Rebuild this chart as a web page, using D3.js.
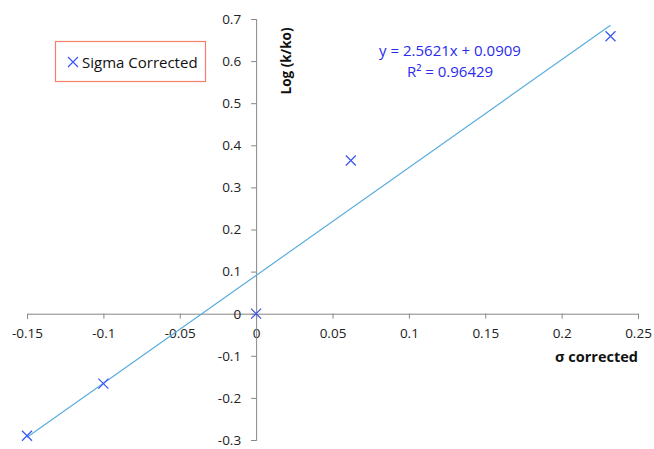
<!DOCTYPE html>
<html lang="en">
<head>
<meta charset="utf-8">
<script src="https://d3js.org/d3.v7.min.js"></script>
<style type="text/css">
body {
	margin: 0;
	background: #fff;
	font-family: "Open Sans", "Noto Sans", sans-serif;
}
.tick text {
	font-size: 13.5px;
	fill: #222;
}
</style>
</head>
<body>
<script type="text/javascript">

// Data
var sigma = [-0.15, -0.1, 0, 0.062, 0.232];
var logK = [-0.29, -0.166, 0, 0.364, 0.659];
var xTicks = [-0.15, -0.1, -0.05, 0, 0.05, 0.1, 0.15, 0.2, 0.25];
var yTicks = [-0.3, -0.2, -0.1, 0, 0.1, 0.2, 0.3, 0.4, 0.5, 0.6, 0.7];
var slope = 2.5621;
var intercept = 0.0909;
var r2 = 0.96429;

var width = 654;
var height = 449;

var svg = d3.select("body")
            .append("svg")
            .attr("width", width)
            .attr("height", height);

// Scales
var x = d3.scaleLinear()
          .domain([-0.15, 0.25])
          .range([27, 638]);

var y = d3.scaleLinear()
          .domain([-0.3, 0.7])
          .range([440, 19]);

var axisColor = "#868686";

// plain hyphen labels like Excel
function fmt(d) { return String(+d.toFixed(2)); }

// x axis crosses at y = 0
var xAxis = svg.append("g")
   .attr("transform", "translate(0," + y(0) + ")")
   .call(d3.axisBottom(x)
           .tickValues(xTicks)
           .tickSize(5)
           .tickPadding(6)
           .tickFormat(fmt));

// y axis crosses at x = 0
var yAxis = svg.append("g")
   .attr("transform", "translate(" + x(0) + ",0)")
   .call(d3.axisLeft(y)
           .tickValues(yTicks)
           .tickSize(5)
           .tickPadding(10)
           .tickFormat(fmt));

svg.selectAll(".domain").attr("stroke", axisColor);
svg.selectAll(".tick line").attr("stroke", axisColor);
svg.selectAll(".tick text").style("font-family", "'Open Sans', 'Noto Sans', sans-serif");

xAxis.selectAll(".tick text").attr("dy", "1.0em");

// Axis titles
svg.append("text")
   .attr("x", 638)
   .attr("y", 362)
   .attr("text-anchor", "end")
   .style("font-weight", "bold")
   .style("font-size", "14.5px")
   .style("fill", "#111")
   .text("σ corrected");

svg.append("text")
   .attr("transform", "translate(291,61) rotate(-90)")
   .attr("text-anchor", "middle")
   .style("font-weight", "bold")
   .style("font-size", "13.5px")
   .style("fill", "#111")
   .text("Log (k/ko)");

// Trendline over the data range
var xExtent = d3.extent(sigma);
svg.append("line")
   .attr("x1", x(xExtent[0]))
   .attr("y1", y(slope * xExtent[0] + intercept))
   .attr("x2", x(xExtent[1]))
   .attr("y2", y(slope * xExtent[1] + intercept))
   .attr("stroke", "#5aaede")
   .attr("stroke-width", 1.2);

// Cross markers
var markerColor = "#3a55f0";
var s = 5;
var pts = svg.selectAll("g.pt")
   .data(sigma.map(function(d, i) { return [d, logK[i]]; }))
   .enter()
   .append("g")
   .attr("class", "pt")
   .attr("transform", function(d) { return "translate(" + x(d[0]) + "," + y(d[1]) + ")"; });

pts.append("path")
   .attr("d", "M" + (-s) + "," + (-s) + "L" + s + "," + s + "M" + (-s) + "," + s + "L" + s + "," + (-s))
   .attr("stroke", markerColor)
   .attr("stroke-width", 1.2)
   .attr("fill", "none");

// Equation
svg.append("text")
   .attr("x", 450)
   .attr("y", 56)
   .attr("text-anchor", "middle")
   .style("font-size", "15px")
   .style("fill", "#2a2af0")
   .text("y = " + slope + "x + " + intercept);

svg.append("text")
   .attr("x", 450)
   .attr("y", 77)
   .attr("text-anchor", "middle")
   .style("font-size", "15px")
   .style("fill", "#2a2af0")
   .text("R² = " + r2);

// Legend
var legend = svg.append("g");

legend.append("rect")
      .attr("x", 55.5)
      .attr("y", 41.5)
      .attr("width", 150)
      .attr("height", 40)
      .attr("fill", "#fff")
      .attr("stroke", "#f4806c")
      .attr("stroke-width", 1.2);

legend.append("path")
      .attr("d", "M68,57L78,67M68,67L78,57")
      .attr("stroke", markerColor)
      .attr("stroke-width", 1.2);

legend.append("text")
      .attr("x", 82)
      .attr("y", 68)
      .style("font-size", "15px")
      .style("fill", "#111")
      .text("Sigma Corrected");

</script>
</body>
</html>
